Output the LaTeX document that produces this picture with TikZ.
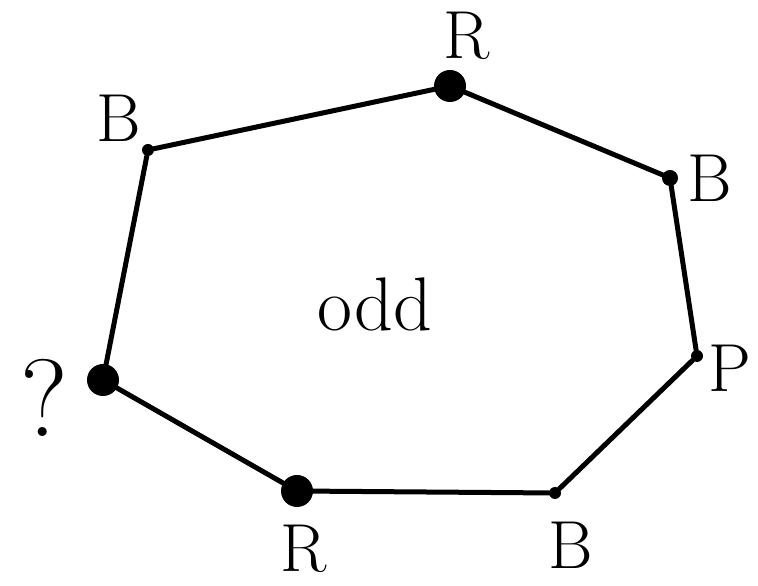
\documentclass[tikz,border=0pt]{standalone}
\usepackage{fontspec}
\usepackage{tikz}
\usetikzlibrary{positioning}

\begin{document}
\begin{tikzpicture}[
    x = 1pt, y = 1pt,
    bigdot/.style = {
      circle, draw = none, fill = black, inner sep = 0pt, minimum size = 32pt
    },
    middot/.style = {
      circle, draw = none, fill = black, inner sep = 0pt, minimum size = 16pt
    },
    smalldot/.style = {
      circle, draw = none, fill = black, inner sep = 0pt, minimum size = 12pt
    },
    colour/.style = {
      inner sep = 0pt, font = \fontsize{68}{68}\selectfont
    },
    edge/.style = {
      line width = 5pt, line cap = round
    },
    ]
    \useasboundingbox  (0,0)  rectangle  (758,586);

    % draw vertices of the cycle
    \node  [smalldot]  (vB1)  at  (148,436)  {};
    \node  [bigdot]  (vR1)  at  (450,500)  {};
    \node  [middot]  (vB2)  at  (670,408)  {};
    \node  [smalldot]  (vP)  at  (697,230)  {};
    \node  [smalldot]  (vB3)  at  (555,93)  {};
    \node  [bigdot]  (vR2)  at  (297,95)  {};
    \node  [bigdot]  (vQ)  at  (103,206)  {};

    % draw labels of the vertices
    \node  [colour]  (lB1)  [above left = 4pt and 2pt of vB1]  {B};
    \node  [colour, xshift = 17pt]  (lR1)  [above = 10pt of vR1]  {R};
    \node  [colour]  (lB2)  [right = 9pt of vB2]  {B};
    \node  [colour, yshift = -12pt]  (lP)  [right = 5pt of vP]  {P};
    \node  [colour, xshift = 16pt]  (lB3)  [below = 23pt of vB3]  {B};
    \node  [colour, xshift = 7pt]  (lR2)  [below = 18pt of vR2]  {R};
    \node  [inner sep = 0pt, font = \fontsize{110}{110}\selectfont, yshift = -18pt]  (lQ)  [left = 18pt of vQ]  {?};

    % draw edges of the cycle
    \foreach \a/\b in {vB1/vR1, vR1/vB2, vB2/vP, vP/vB3, vB3/vR2, vR2/vQ, vQ/vB1}
    \draw  [edge]  (\a)  --  (\b);

    % text inside
    \node  [inner sep = 0pt, font = \fontsize{76}{76}\selectfont]  (odd)  at  (375,282)  {odd};
\end{tikzpicture}
\end{document}
